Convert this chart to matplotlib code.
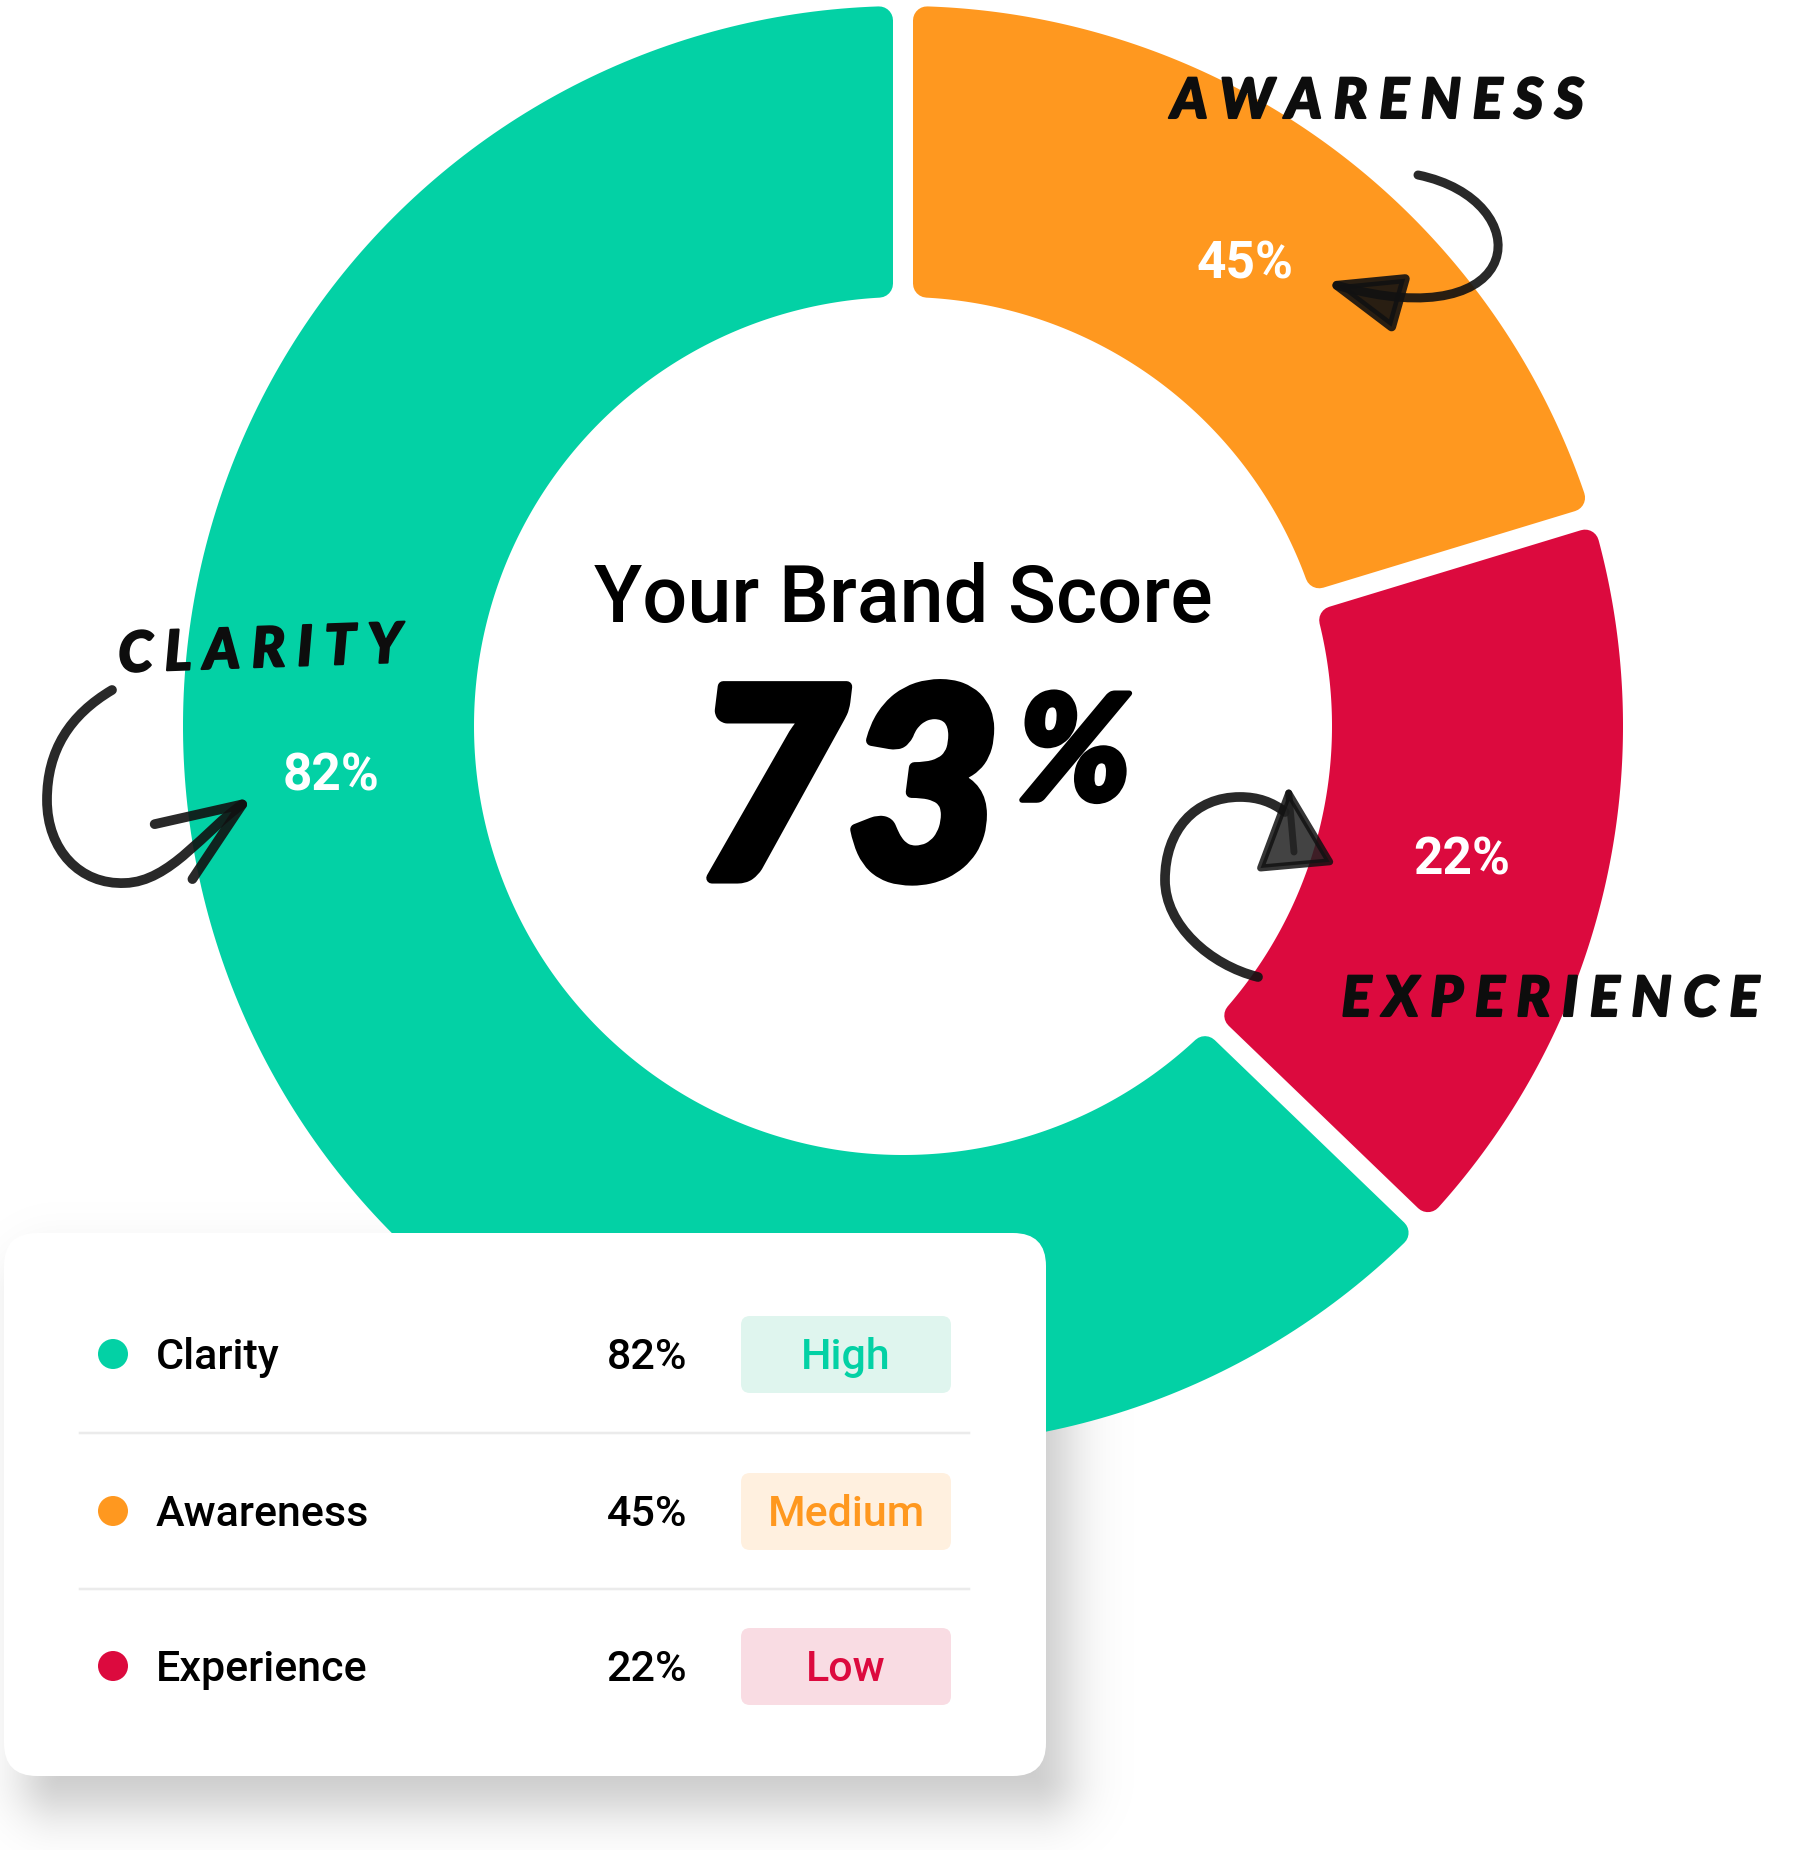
import numpy as np
import matplotlib.pyplot as plt
import matplotlib.patheffects as pe
from matplotlib.patches import Polygon, Circle, FancyBboxPatch, FancyArrowPatch
from matplotlib.path import Path

categories = ["Clarity", "Awareness", "Experience"]
scores = [82, 45, 22]
ratings = ["High", "Medium", "Low"]
# part of the ring each segment takes
arc_share = [0.628, 0.203, 0.169]
ring_order = ["Awareness", "Experience", "Clarity"]  # clockwise from 12 o'clock
overall = 73

colors = {"Clarity": "#03D1A5", "Awareness": "#FF981F", "Experience": "#DC0A3E"}
badge_bg = {"Clarity": "#DFF5EE", "Awareness": "#FFF0DF", "Experience": "#F9DCE3"}

W, H = 1801, 1850
PT = 72 / 100  # points per pixel at dpi 100
fig = plt.figure(figsize=(W / 100, H / 100), dpi=100)
ax = fig.add_axes([0, 0, 1, 1])
ax.axis("off")

cx, cy = 903, 726
r_out, r_in = 720, 429
gap, rc = 20, 14


def ring_segment(t0, t1, color):
    # rounded wedge: shrink polygon by rc then stroke it with a round join
    d = gap / 2 + rc
    ro, ri = r_out - rc, r_in + rc
    do = np.degrees(np.arcsin(d / ro))
    di = np.degrees(np.arcsin(d / ri))
    a_out = np.radians(np.linspace(t0 + do, t1 - do, 300))
    a_in = np.radians(np.linspace(t1 - di, t0 + di, 300))
    xs = np.concatenate([cx + ro * np.cos(a_out), cx + ri * np.cos(a_in)])
    ys = np.concatenate([cy - ro * np.sin(a_out), cy - ri * np.sin(a_in)])
    ax.add_patch(Polygon(np.column_stack([xs, ys]), closed=True, fc=color,
                         ec=color, lw=2 * rc * PT, joinstyle="round", zorder=1))


label_angle = {"Clarity": 185}
start = 90.0
for name in ring_order:
    i = categories.index(name)
    span = arc_share[i] * 360
    t1, t0 = start, start - span
    ring_segment(t0, t1, colors[name])
    a = np.radians(label_angle.get(name, (t0 + t1) / 2))
    rl = (r_out + r_in) / 2
    ax.text(cx + rl * np.cos(a), cy - rl * np.sin(a), f"{scores[i]}%",
            ha="center", va="center", color="white", fontsize=37,
            family="Roboto", weight="bold", zorder=3)
    start = t0

# centre texts
ax.text(cx, 622, "Your Brand Score", ha="center", va="baseline", fontsize=57,
        family="Roboto", weight="medium", zorder=3)
brush = [pe.withStroke(linewidth=8, foreground="black", capstyle="round",
                       joinstyle="round")]
ax.text(694, 878, str(overall), ha="left", va="baseline", fontsize=190,
        family=["Lato", "DejaVu Sans"], weight="black", style="italic",
        path_effects=brush, zorder=3)
ax.text(1018, 800, "%", ha="left", va="baseline", fontsize=106,
        family=["Lato", "DejaVu Sans"], weight="black", style="italic",
        path_effects=[pe.withStroke(linewidth=4, foreground="black",
                                    joinstyle="round")], zorder=3)

# hand lettered labels
hand = dict(ha="center", va="center", fontsize=40, family=["Lato", "DejaVu Sans"],
            weight="black", style="italic", color="#0D0D0D", zorder=4,
            path_effects=[pe.withStroke(linewidth=1.5, foreground="#0D0D0D",
                                        joinstyle="round", capstyle="round")])
spaced = {c: " ".join(c.upper()) for c in categories}
ax.text(1377, 102, spaced["Awareness"], **hand)
ax.text(260, 651, spaced["Clarity"], rotation=2, **hand)
ax.text(1550, 1000, spaced["Experience"], **hand)


def curve(pts):
    codes = [Path.MOVETO] + [Path.CURVE4] * (len(pts) - 1)
    return Path(pts, codes)


ink = dict(color="#111111", alpha=0.9, shrinkA=0, shrinkB=0, mutation_scale=1,
           capstyle="round", joinstyle="round", zorder=4)
ax.add_patch(FancyArrowPatch(
    path=curve([(1418, 175), (1540, 200), (1530, 340), (1325, 282)]),
    arrowstyle="-|>,head_length=46,head_width=18", lw=6.5, **ink))
ax.add_patch(FancyArrowPatch(
    path=curve([(112, 690), (70, 715), (47, 750), (47, 800),
                (47, 850), (80, 885), (125, 883),
                (170, 882), (205, 830), (253, 797)]),
    arrowstyle="->,head_length=60,head_width=24", lw=7, **ink))
ax.add_patch(FancyArrowPatch(
    path=curve([(1258, 977), (1210, 965), (1165, 925), (1165, 880),
                (1165, 830), (1195, 797), (1240, 797),
                (1258, 797), (1272, 802), (1285, 812)]),
    arrowstyle="-", lw=7, **ink))
ax.add_patch(FancyArrowPatch(
    (1294, 852), (1288, 785), arrowstyle="-|>,head_length=52,head_width=25",
    lw=5, fc="#222222", ec="#111111", alpha=0.85, shrinkA=0, shrinkB=0,
    mutation_scale=1, joinstyle="round", zorder=4))

# legend card with a soft shadow
x0, y0, cw, ch, cr = 4, 1233, 1042, 543, 33
gx = np.arange(-100, 1300, 2.0)
gy = np.arange(1100, 1950, 2.0)
X, Y = np.meshgrid(gx, gy)
sx, sy = 22, 34
qx = np.abs(X - (x0 + cw / 2 + sx)) - (cw / 2 - cr)
qy = np.abs(Y - (y0 + ch / 2 + sy)) - (ch / 2 - cr)
sdf = np.hypot(np.maximum(qx, 0), np.maximum(qy, 0)) + np.minimum(np.maximum(qx, qy), 0) - cr
sigma = 28
alpha = 0.22 / (1 + np.exp(sdf / (0.588 * sigma)))
img = np.zeros(X.shape + (4,))
img[..., 3] = alpha
ax.imshow(img, extent=(gx[0], gx[-1], gy[-1], gy[0]), origin="upper",
          aspect="auto", zorder=0.5, interpolation="bilinear")

ax.add_patch(FancyBboxPatch((x0, y0), cw, ch, boxstyle=f"round,pad=0,rounding_size={cr}",
                            fc="white", ec="none", zorder=6))

row_y = [1354, 1511, 1666]
txt = dict(fontsize=31, family="Roboto", weight="medium", va="baseline", zorder=8)
for i, name in enumerate(categories):
    y = row_y[i]
    ax.add_patch(Circle((113, y), 15, fc=colors[name], ec="none", zorder=7))
    ax.text(156, y + 15, name, ha="left", **txt)
    ax.text(687, y + 15, f"{scores[i]}%", ha="right", **txt)
    ax.add_patch(FancyBboxPatch((741, y - 38), 210, 77,
                                boxstyle="round,pad=0,rounding_size=9",
                                fc=badge_bg[name], ec="none", zorder=7))
    ax.text(846, y + 15, ratings[i], ha="center", color=colors[name], **txt)
    if i < len(categories) - 1:
        sep = (row_y[i] + row_y[i + 1]) / 2
        ax.plot([80, 969], [sep, sep], color="#EBEBEB", lw=2.5 * PT, zorder=7)

ax.set_xlim(0, W)
ax.set_ylim(H, 0)
fig.savefig("out.png", dpi=100, facecolor="white")
